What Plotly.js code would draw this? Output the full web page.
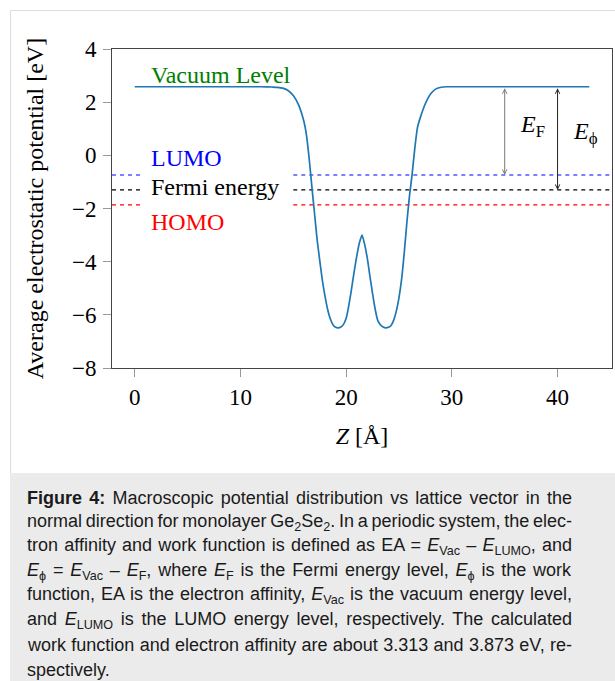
<!DOCTYPE html>
<html>
<head>
<meta charset="utf-8">
<script src="https://cdn.plot.ly/plotly-3.0.1.min.js"></script>
<style>
  html, body { margin: 0; padding: 0; background: #ffffff; }
  #chart { width: 615px; height: 681px; }
</style>
</head>
<body>
<div id="chart"></div>
<script>
// ---- Data ----
const zValues = [0, 2, 4, 6, 8, 10, 12, 13, 13.5, 14, 14.5, 15, 15.5, 16, 16.25, 16.5, 16.75, 17, 17.25, 17.5, 17.75, 18, 18.25, 18.5, 18.75, 19, 19.25, 19.5, 19.75, 20, 20.25, 20.5, 20.75, 21, 21.25, 21.5, 21.75, 22, 22.25, 22.5, 22.75, 23, 23.25, 23.5, 23.75, 24, 24.25, 24.5, 24.75, 25, 25.25, 25.5, 25.75, 26, 26.25, 26.5, 26.75, 27, 27.5, 28, 28.5, 29, 29.5, 30, 32, 34, 36, 38, 40, 42, 43];
const potential = [2.58, 2.58, 2.58, 2.58, 2.58, 2.58, 2.58, 2.57, 2.56, 2.53, 2.44, 2.25, 1.9, 1.28, 0.75, -0.12, -1.15, -2.15, -3.15, -3.95, -4.7, -5.3, -5.8, -6.15, -6.37, -6.47, -6.49, -6.46, -6.36, -6.13, -5.65, -5.05, -4.4, -3.8, -3.3, -3.0, -3.35, -3.87, -4.55, -5.2, -5.8, -6.22, -6.38, -6.46, -6.49, -6.47, -6.4, -6.2, -5.85, -5.35, -4.65, -3.65, -2.5, -1.5, -0.68, 0.28, 1.05, 1.4, 1.95, 2.32, 2.5, 2.56, 2.58, 2.58, 2.58, 2.58, 2.58, 2.58, 2.58, 2.58, 2.58];

const vacuumLevel = 2.58;
const levelNames = ['LUMO', 'Fermi energy', 'HOMO'];
const levelEnergies = [-0.74, -1.30, -1.86];
const levelColors = ['#0000ff', '#000000', '#ff0000'];

const xTickVals = [0, 10, 20, 30, 40];
const yTickVals = [-8, -6, -4, -2, 0, 2, 4];

const captionLines = [
  '<b>Figure 4:</b> Macroscopic potential distribution vs lattice vector in the',
  'normal direction for monolayer Ge<sub>2</sub>Se<sub>2</sub>. In a periodic system, the elec-',
  'tron affinity and work function is defined as EA = <i>E</i><sub>Vac</sub> – <i>E</i><sub>LUMO</sub>, and',
  '<i>E</i><sub>ϕ</sub> = <i>E</i><sub>Vac</sub> – <i>E</i><sub>F</sub>, where <i>E</i><sub>F</sub> is the Fermi energy level, <i>E</i><sub>ϕ</sub> is the work',
  'function, EA is the electron affinity, <i>E</i><sub>Vac</sub> is the vacuum energy level,',
  'and <i>E</i><sub>LUMO</sub> is the LUMO energy level, respectively. The calculated',
  'work function and electron affinity are about 3.313 and 3.873 eV, re-',
  'spectively.'
];

// ---- Layout constants ----
const W = 615, H = 681;
const M = { l: 112, r: 3, t: 49, b: 313 };
const plotW = W - M.l - M.r, plotH = H - M.t - M.b;
const xRange = [-2.15, 45.15];
const yRange = [-8, 4];
const serif = 'Liberation Serif, Times New Roman, serif';
const sans = 'Liberation Sans, Arial, Helvetica, sans-serif';

const px2paperX = px => (px - M.l) / plotW;
const px2paperY = py => (H - M.b - py) / plotH;

const traces = [];
levelEnergies.forEach((e, i) => {
  traces.push({
    x: [xRange[0], 0.5, null, 15, xRange[1]],
    y: [e, e, null, e, e],
    mode: 'lines',
    line: { color: levelColors[i], width: 1.2, dash: '4px,4px' },
    hoverinfo: 'skip',
    showlegend: false
  });
});
traces.push({
  x: zValues,
  y: potential,
  mode: 'lines',
  line: { color: '#1f77b4', width: 1.7, shape: 'spline', smoothing: 0.6 },
  showlegend: false
});

const annotations = [];
const labelFont = (c) => ({ family: serif, size: 24, color: c });
annotations.push({ x: 1.35, y: 3.04, xref: 'x', yref: 'y', text: 'Vacuum Level', showarrow: false, xanchor: 'left', yanchor: 'middle', font: labelFont('#008000') });
const labelY = [-0.11, -1.20, -2.49];
levelNames.forEach((n, i) => {
  annotations.push({ x: 1.35, y: labelY[i], xref: 'x', yref: 'y', text: n, showarrow: false, xanchor: 'left', yanchor: 'middle', font: labelFont(levelColors[i]) });
});
const arrowSpecs = [
  { x: 35, to: levelEnergies[0], color: '#777777' },
  { x: 40, to: levelEnergies[1], color: '#222222' }
];
arrowSpecs.forEach(a => {
  annotations.push({
    x: a.x, y: a.to, ax: a.x, ay: vacuumLevel,
    xref: 'x', yref: 'y', axref: 'x', ayref: 'y',
    text: '', showarrow: true, arrowside: 'end+start',
    arrowhead: 5, startarrowhead: 5, arrowsize: 0.9, startarrowsize: 0.9,
    arrowwidth: 1, arrowcolor: a.color, standoff: 0, startstandoff: 0,
    font: { size: 1 }
  });
});
annotations.push({ x: 36.3, y: 1.12, xref: 'x', yref: 'y', text: '<i>E</i><sub>F</sub>', showarrow: false, xanchor: 'left', yanchor: 'middle', font: labelFont('#000000') });
annotations.push({ x: 41.3, y: 0.84, xref: 'x', yref: 'y', text: '<i>E</i><sub>ϕ</sub>', showarrow: false, xanchor: 'left', yanchor: 'middle', font: labelFont('#000000') });

const captionStart = annotations.length;
const captionTop = 497.5, captionStep = 24.6;
captionLines.forEach((t, i) => {
  annotations.push({
    x: px2paperX(25), y: px2paperY(captionTop + i * captionStep),
    xref: 'paper', yref: 'paper', text: t, showarrow: false,
    xanchor: 'left', yanchor: 'middle', align: 'left',
    font: { family: sans, size: 18, color: '#1a1a1a' }
  });
});

const shapes = [
  { type: 'rect', xref: 'paper', yref: 'paper', layer: 'below',
    x0: px2paperX(10.5), x1: px2paperX(640), y0: px2paperY(700), y1: px2paperY(10.5),
    line: { color: '#dddddd', width: 1 }, fillcolor: 'rgba(0,0,0,0)' },
  { type: 'rect', xref: 'paper', yref: 'paper', layer: 'below',
    x0: px2paperX(10), x1: px2paperX(640), y0: px2paperY(700), y1: px2paperY(473),
    line: { width: 0 }, fillcolor: '#ebebeb' }
];

const layout = {
  width: W, height: H,
  margin: M,
  paper_bgcolor: '#ffffff',
  plot_bgcolor: 'rgba(0,0,0,0)',
  showlegend: false,
  xaxis: {
    range: xRange, tickvals: xTickVals, ticktext: xTickVals.map(String),
    ticks: 'outside', ticklen: 8, tickwidth: 1, tickcolor: '#999999',
    showline: true, linecolor: '#444444', linewidth: 1, mirror: true,
    showgrid: false, zeroline: false,
    tickfont: { family: serif, size: 23, color: '#000000' },
    title: { text: '<i>Z</i> [Å]', font: { family: serif, size: 24, color: '#000000' }, standoff: 18 }
  },
  yaxis: {
    range: yRange, tickvals: yTickVals,
    ticktext: yTickVals.map(v => (v < 0 ? '\u2212' + Math.abs(v) : String(v))),
    ticks: 'outside', ticklen: 8, tickwidth: 1, tickcolor: '#999999',
    showline: true, linecolor: '#444444', linewidth: 1, mirror: true,
    showgrid: false, zeroline: false, ticklabelstandoff: 2,
    tickfont: { family: serif, size: 23, color: '#000000' },
    title: { text: 'Average electrostatic potential [eV]', font: { family: serif, size: 24, color: '#000000' }, standoff: 21 }
  },
  annotations: annotations,
  shapes: shapes
};

Plotly.newPlot('chart', traces, layout, { displayModeBar: false, staticPlot: true }).then(gd => {
  // justify caption lines (all but the last) to the column width, like the reference
  const targetWidth = 545;
  captionLines.forEach((t, i) => {
    if (i === captionLines.length - 1) return;
    const g = gd.querySelector('.annotation[data-index="' + (captionStart + i) + '"]');
    if (!g) return;
    const txt = g.querySelector('text.annotation-text');
    if (!txt) return;
    const w = txt.getBBox().width;
    const spaces = (txt.textContent.match(/ /g) || []).length;
    if (spaces > 0 && w > 0) {
      txt.style.wordSpacing = ((targetWidth - w) / spaces).toFixed(2) + 'px';
    }
  });
});
</script>
</body>
</html>
